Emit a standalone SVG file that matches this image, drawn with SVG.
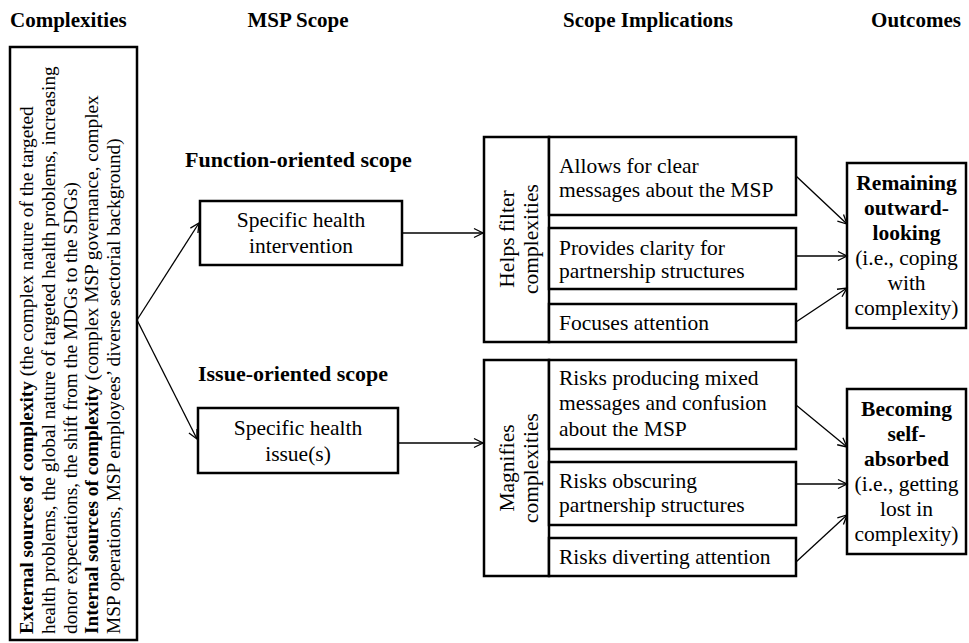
<svg xmlns="http://www.w3.org/2000/svg" width="969" height="643" viewBox="0 0 969 643">
<style>
.box{fill:#fff;stroke:#000;stroke-width:2.5}
.t{font-family:"Liberation Serif","Times New Roman",serif;font-size:21.5px;fill:#000}
.s{font-size:19.3px}
.b{font-weight:bold}
.h{font-family:"Liberation Serif","Times New Roman",serif;font-size:21px;font-weight:bold}
.m{text-anchor:middle}
.conn line{stroke:#000;stroke-width:1.3;marker-end:url(#arr)}
</style>
<defs>
<marker id="arr" markerUnits="userSpaceOnUse" markerWidth="12" markerHeight="12" refX="10" refY="6" orient="auto" viewBox="0 0 12 12">
<path d="M1,1.5 L10,6 L1,10.5" fill="none" stroke="#000" stroke-width="1.3"/>
</marker>
</defs>
<rect width="969" height="643" fill="#fff"/>
<g id="headers">
<text class="h" x="10" y="27">Complexities</text>
<text class="h m" x="298" y="27">MSP Scope</text>
<text class="h m" x="648" y="27">Scope Implications</text>
<text class="h m" x="916" y="27">Outcomes</text>
</g>
<g id="complexities">
<rect class="box" x="10" y="47" width="127" height="593"/>
<text class="t s" transform="translate(33,634) rotate(-90)">
<tspan x="0" y="0"><tspan class="b">External sources of complexity</tspan> (the complex nature of the targeted</tspan>
<tspan x="0" y="21.8">health problems, the global nature of targeted health problems, increasing</tspan>
<tspan x="0" y="43.6">donor expectations, the shift from the MDGs to the SDGs)</tspan>
<tspan x="0" y="65.4"><tspan class="b">Internal sources of complexity</tspan> (complex MSP governance, complex</tspan>
<tspan x="0" y="87.2">MSP operations, MSP employees’ diverse sectorial background)</tspan>
</text>
</g>
<g id="function-scope">
<text class="t b" x="185" y="167" style="font-size:22px">Function-oriented scope</text>
<rect class="box" x="200" y="201" width="202" height="64"/>
<text class="t m" x="301" y="227">Specific health</text>
<text class="t m" x="301" y="253">intervention</text>
</g>
<g id="issue-scope">
<text class="t b" x="198" y="381" style="font-size:22px">Issue-oriented scope</text>
<rect class="box" x="198" y="408" width="200" height="65"/>
<text class="t m" x="298" y="435">Specific health</text>
<text class="t m" x="298" y="461">issue(s)</text>
</g>
<g id="helps-filter">
<rect class="box" x="484" y="137" width="65" height="205"/>
<text class="t m" transform="translate(514,239) rotate(-90)"><tspan x="0" y="0">Helps filter</tspan><tspan x="0" y="24">complexities</tspan></text>
<rect class="box" x="549" y="137" width="247" height="78"/>
<text class="t" x="559" y="173">Allows for clear</text>
<text class="t" x="559" y="197">messages about the MSP</text>
<rect class="box" x="549" y="228" width="247" height="61"/>
<text class="t" x="559" y="255">Provides clarity for</text>
<text class="t" x="559" y="278">partnership structures</text>
<rect class="box" x="549" y="304" width="247" height="38"/>
<text class="t" x="559" y="330">Focuses attention</text>
</g>
<g id="magnifies">
<rect class="box" x="484" y="360" width="65" height="216"/>
<text class="t m" transform="translate(514,468) rotate(-90)"><tspan x="0" y="0">Magnifies</tspan><tspan x="0" y="24">complexities</tspan></text>
<rect class="box" x="549" y="360" width="247" height="89"/>
<text class="t" x="559" y="385">Risks producing mixed</text>
<text class="t" x="559" y="410">messages and confusion</text>
<text class="t" x="559" y="436">about the MSP</text>
<rect class="box" x="549" y="462" width="247" height="63"/>
<text class="t" x="559" y="488">Risks obscuring</text>
<text class="t" x="559" y="512">partnership structures</text>
<rect class="box" x="549" y="538" width="247" height="38"/>
<text class="t" x="559" y="564">Risks diverting attention</text>
</g>
<g id="outward">
<rect class="box" x="847" y="163" width="119" height="165"/>
<text class="t m b" x="906.5" y="190">Remaining</text>
<text class="t m b" x="906.5" y="215">outward-</text>
<text class="t m b" x="906.5" y="240">looking</text>
<text class="t m" x="906.5" y="265">(i.e., coping</text>
<text class="t m" x="906.5" y="290">with</text>
<text class="t m" x="906.5" y="315">complexity)</text>
</g>
<g id="self-absorbed">
<rect class="box" x="847" y="389" width="119" height="165"/>
<text class="t m b" x="906.5" y="416">Becoming</text>
<text class="t m b" x="906.5" y="441">self-</text>
<text class="t m b" x="906.5" y="466">absorbed</text>
<text class="t m" x="906.5" y="491">(i.e., getting</text>
<text class="t m" x="906.5" y="516">lost in</text>
<text class="t m" x="906.5" y="541">complexity)</text>
</g>
<g class="conn" id="connectors">
<line x1="137" y1="320" x2="199" y2="223"/>
<line x1="137" y1="320" x2="197" y2="439"/>
<line x1="402" y1="233" x2="483" y2="233"/>
<line x1="398" y1="443" x2="483" y2="443"/>
<line x1="796" y1="176" x2="847" y2="224"/>
<line x1="796" y1="256" x2="847" y2="256"/>
<line x1="796" y1="322" x2="847" y2="288"/>
<line x1="796" y1="405" x2="847" y2="447"/>
<line x1="796" y1="484" x2="847" y2="484"/>
<line x1="796" y1="562" x2="847" y2="515"/>
</g>
</svg>
